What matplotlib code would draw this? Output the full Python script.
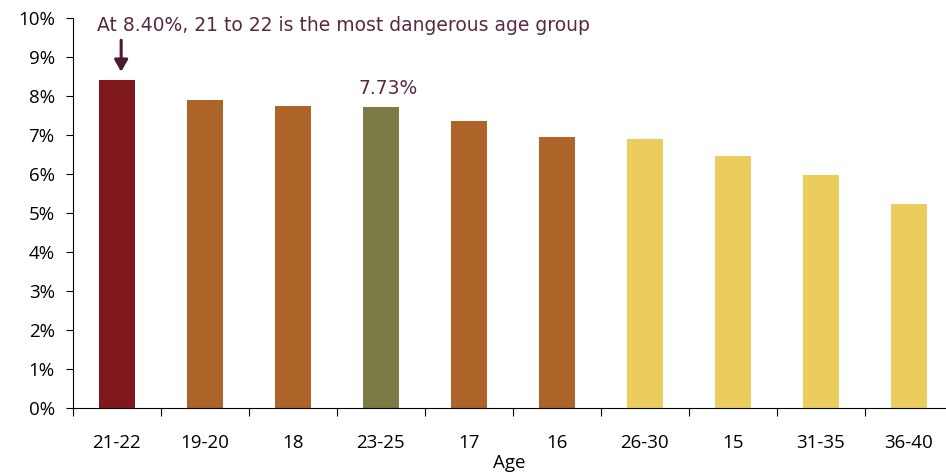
import matplotlib
matplotlib.use("Agg")
import matplotlib.pyplot as plt
import numpy as np

categories = ["21-22", "19-20", "18", "23-25", "17", "16", "26-30", "15", "31-35", "36-40"]
values = [8.40, 7.90, 7.74, 7.73, 7.36, 6.95, 6.90, 6.46, 5.97, 5.23]
colors = ["#7f181c", "#ac6428", "#ac6428", "#7a7b45", "#ac6428", "#ac6428",
          "#ebcd5d", "#ebcd5d", "#ebcd5d", "#ebcd5d"]
yticks = list(range(0, 11))

fig = plt.figure(figsize=(9.46, 4.72), dpi=100)
ax = fig.add_axes([0.0769, 0.1356, 0.9231, 0.8263])
x = np.arange(len(categories))
ax.bar(x, values, width=0.41, color=colors, zorder=2)

ax.set_xlim(-0.5, 9.424)
ax.set_ylim(0, 10)
ax.set_yticks(yticks)
ax.set_yticklabels([f"{t}%" for t in yticks], fontsize=13.5, family="Open Sans")
ax.set_xticks(x)
ax.set_xticklabels(categories, fontsize=13.5, family="Open Sans")
ax.set_xticks(np.arange(-0.5, 9.0, 1.0), minor=True)
ax.tick_params(axis="x", which="major", length=0, pad=19)
ax.tick_params(axis="x", which="minor", length=6, direction="out", width=0.8)
ax.tick_params(axis="y", length=5, direction="out", width=0.8, pad=8)
for s in ["top", "right"]:
    ax.spines[s].set_visible(False)
ax.spines["left"].set_linewidth(0.8)
ax.spines["bottom"].set_linewidth(0.8)
ax.set_xlabel("Age", fontsize=13.5, family="Open Sans", labelpad=1)

txtc = "#5a2a3c"
ax.text(-0.23, 9.8, "At 8.40%, 21 to 22 is the most dangerous age group",
        fontsize=13.5, color=txtc, ha="left", va="center", family="DejaVu Sans")
ax.annotate("", xy=(0.05, values[0] + 0.15), xytext=(0.05, 9.5),
            arrowprops=dict(arrowstyle="-|>,head_width=0.4,head_length=0.7",
                            color="#4a1a2e", lw=2.2))
ax.text(3.08, values[3] + 0.22, f"{values[3]:.2f}%", fontsize=13.5, color=txtc,
        ha="center", va="bottom", family="DejaVu Sans")

fig.savefig("out.png", dpi=100)
